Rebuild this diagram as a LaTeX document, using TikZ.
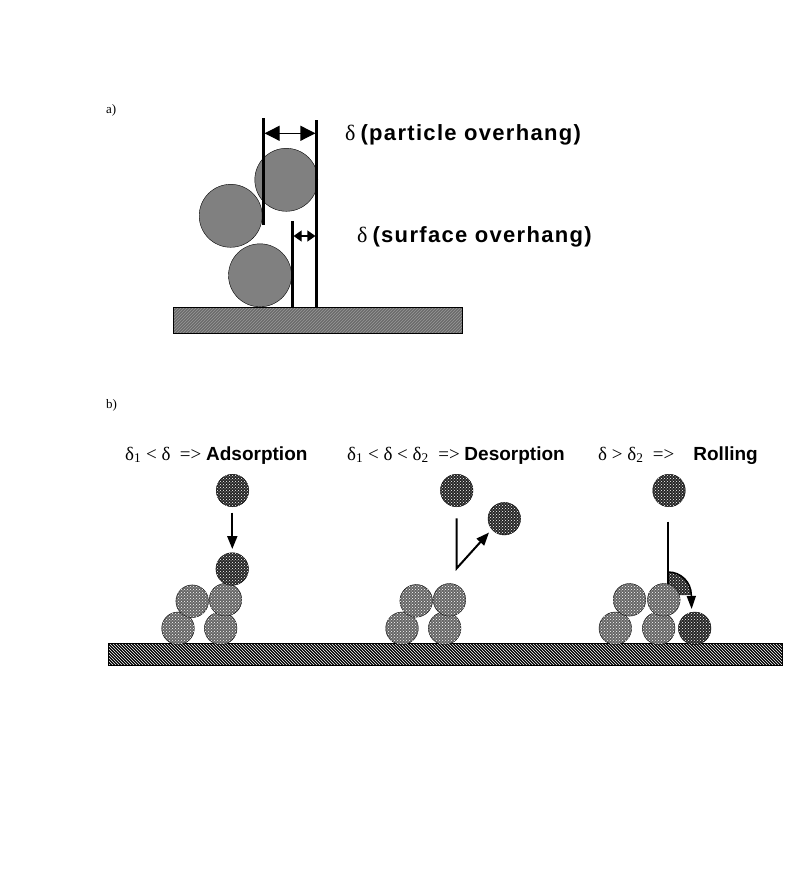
\documentclass[tikz,border=0pt]{standalone}
\usepackage{fontspec}
\setmainfont{Liberation Serif}
\newfontfamily\boldsans{Liberation Sans}
\newfontfamily\widesans[LetterSpace=6]{Liberation Sans}
\usetikzlibrary{arrows.meta,patterns}

\begin{document}
\begin{tikzpicture}[x=1pt,y=-1pt,
    bigp/.style={circle,draw,thin,fill=black!50,inner sep=0pt,minimum size=63pt},
    lightp/.style={circle,draw,thin,fill=black!60,inner sep=0pt,minimum size=32.6pt,
      postaction={pattern=crosshatch dots,pattern color=white}},
    darkp/.style={circle,draw,thin,fill=black!85,inner sep=0pt,minimum size=32.6pt,
      postaction={pattern=crosshatch dots,pattern color=white}},
    wall/.style={line width=2.6pt},
    fall/.style={line width=2pt,-{Triangle[length=13pt,width=10pt]}},
    lbl/.style={anchor=base west,inner sep=0pt,font=\fontsize{19}{22}\selectfont},
    big/.style={anchor=base west,inner sep=0pt,font=\fontsize{22}{26}\selectfont}]
\useasboundingbox (0,0) rectangle (793,879);

% a) overhang
\node[anchor=base west,inner sep=0pt,font=\fontsize{13}{15}\selectfont] (la) at (106,113) {a)};
\fill[black!58] (173,307) rectangle (462,333);
\fill[pattern=north east lines,pattern color=black!40] (173,307) rectangle (462,333);
\draw[thin] (173,307) rectangle (462,333);
\node[bigp] (p1) at (260,275.3) {};
\node[bigp] (p2) at (230.7,215.8) {};
\node[bigp] (p3) at (286.3,179.8) {};
\coordinate (l1t) at (263.3,118);  \coordinate (l1b) at (263.3,225);
\coordinate (l2t) at (316.7,120);  \coordinate (l2b) at (316.7,307);
\coordinate (l3t) at (292.3,221);  \coordinate (l3b) at (292.3,307);
\draw[wall] (l1t) -- (l1b);
\draw[wall] (l2t) -- (l2b);
\draw[wall] (l3t) -- (l3b);
\draw[line width=1.2pt,{Triangle[length=15pt,width=15pt]}-{Triangle[length=15pt,width=15pt]}]
  (264.6,133.3) -- (315.4,133.3);
\draw[line width=1.2pt,{Triangle[length=8pt,width=11pt]}-{Triangle[length=8pt,width=11pt]}]
  (293.6,236) -- (315.4,236);
\node[big] (tpart) at (345,140) {δ\kern5pt{\widesans\bfseries (particle overhang)}};
\node[big] (tsurf) at (357,242) {δ\kern5pt{\widesans\bfseries (surface overhang)}};

% b) three cases
\node[anchor=base west,inner sep=0pt,font=\fontsize{13}{15}\selectfont] (lb) at (106,408) {b)};
\fill[black] (108,643) rectangle (782,665);
\fill[pattern=north west lines,pattern color=white] (108,643) rectangle (782,665);
\draw[thin] (108,643) rectangle (782,665);

% adsorption
\node[lbl] (tads) at (125,460) {δ\textsubscript{1} < δ \ => {\boldsans\bfseries Adsorption}};
\node[lightp] (a1) at (178,628.3) {};
\node[lightp] (a2) at (220.7,628.3) {};
\node[lightp] (a3) at (192.2,601.2) {};
\node[lightp] (a4) at (225.5,599.7) {};
\node[darkp] (a5) at (232.2,569) {};
\node[darkp] (a6) at (232.5,490.5) {};
\coordinate (af1) at (232.3,512.7);
\coordinate (af2) at (232.3,549);
\draw[fall] (af1) -- (af2);

% desorption
\node[lbl] (tdes) at (347,460) {δ\textsubscript{1} < δ < δ\textsubscript{2} \ => {\boldsans\bfseries Desorption}};
\node[lightp] (d1) at (402,628.3) {};
\node[lightp] (d2) at (444.7,628.3) {};
\node[lightp] (d3) at (416.2,600.8) {};
\node[lightp] (d4) at (449.5,599.8) {};
\node[darkp] (d5) at (456.7,490.5) {};
\node[darkp] (d6) at (504.3,518.7) {};
\coordinate (df1) at (456.7,518.3);
\coordinate (df2) at (456.7,568.3);
\coordinate (df3) at (489,532.5);
\draw[line width=2pt,-{Triangle[length=13pt,width=10pt]}] (df1) -- (df2) -- (df3);

% rolling
\node[lbl] (trol) at (598,460) {δ > δ\textsubscript{2} \ =>\ \ \ \ {\boldsans\bfseries Rolling}};
\node[darkp] (r6) at (669,490.5) {};
\coordinate (rc) at (668.3,595);
\fill[black!85] (rc) -- (668.3,572) arc[start angle=-90,end angle=0,radius=23] -- cycle;
\fill[pattern=crosshatch dots,pattern color=white] (rc) -- (668.3,572) arc[start angle=-90,end angle=0,radius=23] -- cycle;
\draw[line width=1.5pt,-{Triangle[length=13pt,width=9pt]}] (668.3,572) arc[start angle=-90,end angle=0,radius=23] -- (691.6,609);
\coordinate (rf1) at (668.3,521.7);
\coordinate (rf2) at (668.3,585);
\draw[line width=2pt] (rf1) -- (rf2);
\node[lightp] (r1) at (615.3,628.3) {};
\node[lightp] (r2) at (658.7,628.3) {};
\node[lightp] (r3) at (629.5,599.8) {};
\node[lightp] (r4) at (663.8,599.8) {};
\node[darkp] (r5) at (694.7,628.3) {};
\end{tikzpicture}
\end{document}
